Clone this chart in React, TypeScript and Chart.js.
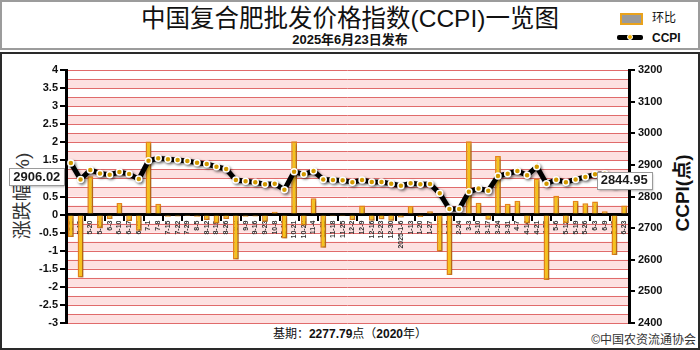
import React, { useEffect, useRef } from "react";
import { Chart, registerables } from "chart.js";

Chart.register(...registerables);

// Weekly release dates (2024-05-06 … 2025-06-23)
const weekLabels = [
  "5-6", "5-13", "5-20", "5-27", "6-3", "6-10", "6-17", "6-24",
  "7-1", "7-8", "7-15", "7-22", "7-29", "8-5", "8-12", "8-19", "8-26",
  "9-2", "9-9", "9-16", "9-23", "10-8", "10-14", "10-21", "10-28",
  "11-4", "11-11", "11-18", "11-25", "12-2", "12-9", "12-16", "12-23", "12-30",
  "2025-1-6", "1-13", "1-20", "1-27", "2-10", "2-17", "2-24",
  "3-3", "3-10", "3-17", "3-24", "3-31", "4-7", "4-14", "4-21", "4-28",
  "5-6", "5-12", "5-19", "5-26", "6-3", "6-9", "6-16", "6-23",
];

// Week-on-week change, %
const changePct = [
  -0.62, -1.74, 1.06, -0.38, -0.12, 0.32, -0.18, -0.45,
  2.02, 0.3, -0.06, -0.05, -0.04, -0.06, -0.15, -0.25, -0.12,
  -1.24, -0.06, -0.05, -0.2, 0.08, -0.66, 2.03, -0.3,
  0.45, -0.92, -0.04, -0.04, -0.15, 0.25, -0.17, -0.13, -0.17,
  -0.08, 0.24, -0.07, 0.09, -1.02, -1.67, 0.02,
  2.03, 0.33, -0.14, 1.62, 0.3, 0.38, -0.25, 1.0, -1.81,
  0.52, -0.24, 0.38, 0.31, 0.36, 0.09, -1.12, 0.25,
];

// CCPI index, points
const ccpiIndex = [
  2906.02, 2854, 2884, 2873, 2869, 2877.5, 2871, 2855,
  2913, 2921, 2918, 2915.5, 2912, 2907, 2903, 2894, 2887,
  2852, 2848, 2845, 2838.5, 2840.5, 2821.5, 2878.5, 2870,
  2880.6, 2854, 2852, 2851, 2845, 2852, 2846, 2846, 2840.5,
  2834, 2841.6, 2838.5, 2839.5, 2810, 2760.5, 2760.5,
  2815, 2825, 2818.5, 2865, 2872, 2880.6, 2867, 2894, 2840.5,
  2853, 2845, 2854, 2861.6, 2870, 2872, 2838, 2844.95,
];

// Axis ranges
const PCT_MIN = -3;
const PCT_MAX = 4;
const PCT_STEP = 0.5;
const IDX_MIN = 2400;
const IDX_MAX = 3200;
const IDX_STEP = 50;

const LATIN = '"Liberation Sans", Arial, "Noto Sans CJK SC", sans-serif';
const CJK = '"Liberation Sans", "Noto Sans CJK SC", sans-serif';

// Striped background with red rules every quarter percent
const bandPlugin = {
  id: "bands",
  beforeDraw(chart: any) {
    const { ctx, chartArea: a, scales } = chart;
    const y = scales.yPct;
    const step = PCT_STEP / 2;
    const n = Math.round((PCT_MAX - PCT_MIN) / step);
    ctx.save();
    for (let k = 0; k < n; k++) {
      if (k % 2 !== 0) continue;
      const v = PCT_MIN + k * step;
      const bot = y.getPixelForValue(v);
      const top = y.getPixelForValue(v + step);
      ctx.fillStyle = "#fde1e1";
      ctx.fillRect(a.left, top, a.right - a.left, bot - top);
    }
    ctx.strokeStyle = "#e06b6b";
    ctx.lineWidth = 1;
    for (let k = 0; k <= n; k++) {
      const py = Math.round(y.getPixelForValue(PCT_MIN + k * step)) + 0.5;
      ctx.beginPath();
      ctx.moveTo(a.left, py);
      ctx.lineTo(a.right, py);
      ctx.stroke();
    }
    ctx.restore();
  },
};

// Soft drop shadow under bars and the index line
const shadowPlugin = {
  id: "shadow",
  beforeDatasetDraw(chart: any) {
    const ctx = chart.ctx;
    ctx.save();
    ctx.shadowColor = "rgba(0,0,0,0.35)";
    ctx.shadowBlur = 3;
    ctx.shadowOffsetX = 1.5;
    ctx.shadowOffsetY = 1.5;
  },
  afterDatasetDraw(chart: any) {
    chart.ctx.restore();
  },
};

function drawValueBox(ctx: any, text: string, cx: number, cy: number) {
  ctx.save();
  ctx.font = `bold 13px ${LATIN}`;
  const w = ctx.measureText(text).width + 8;
  const h = 17;
  const x = Math.round(cx - w / 2) + 0.5;
  const y = Math.round(cy - h / 2) + 0.5;
  ctx.shadowColor = "rgba(0,0,0,0.3)";
  ctx.shadowBlur = 2;
  ctx.shadowOffsetX = 1;
  ctx.shadowOffsetY = 1;
  ctx.fillStyle = "#ffffff";
  ctx.fillRect(x, y, w, h);
  ctx.shadowColor = "transparent";
  ctx.strokeStyle = "#9a9a9a";
  ctx.lineWidth = 1;
  ctx.strokeRect(x, y, w, h);
  ctx.fillStyle = "#1a1a1a";
  ctx.textAlign = "center";
  ctx.textBaseline = "middle";
  ctx.fillText(text, cx, cy + 0.5);
  ctx.restore();
}

// Value call-outs for the first and latest index readings
const endLabelPlugin = {
  id: "endLabels",
  afterDraw(chart: any) {
    const meta = chart.getDatasetMeta(1);
    const pts = meta.data;
    const first = pts[0];
    const last = pts[pts.length - 1];
    const ctx = chart.ctx;
    drawValueBox(ctx, ccpiIndex[0].toFixed(2), first.x - 34, first.y + 14);
    drawValueBox(ctx, ccpiIndex[ccpiIndex.length - 1].toFixed(2), last.x, last.y - 2);
  },
};

const plainNumber = (v: any) => String(v);

function CcpiChart() {
  const ref = useRef<HTMLCanvasElement | null>(null);

  useEffect(() => {
    if (!ref.current) return;
    const chart = new Chart(ref.current, {
      type: "bar",
      data: {
        labels: weekLabels,
        datasets: [
          {
            type: "bar",
            label: "环比",
            data: changePct,
            yAxisID: "yPct",
            backgroundColor: "#f6c21c",
            borderColor: "#e8861a",
            borderWidth: 1.5,
            barPercentage: 0.6,
            categoryPercentage: 1,
            order: 1,
          },
          {
            type: "line",
            label: "CCPI",
            data: ccpiIndex,
            yAxisID: "yIdx",
            borderColor: "#000000",
            borderWidth: 5,
            tension: 0,
            pointRadius: 3,
            pointBorderWidth: 1.5,
            pointBorderColor: "#ffffff",
            pointBackgroundColor: "#f5b301",
            order: 0,
          },
        ],
      },
      options: {
        responsive: false,
        animation: false,
        events: [],
        layout: { padding: { left: 0, right: 0, top: 70, bottom: 27 } },
        plugins: {
          legend: { display: false },
          tooltip: { enabled: false },
        },
        scales: {
          x: {
            type: "category",
            position: { yPct: 0 } as any,
            offset: true,
            border: { display: true, color: "#000", width: 3 },
            grid: {
              offset: true,
              drawOnChartArea: false,
              tickLength: 5,
              lineWidth: 2,
              color: (c: any) => (c.index % 2 === 0 ? "#000" : "rgba(0,0,0,0)"),
            },
            ticks: {
              autoSkip: false,
              minRotation: 90,
              maxRotation: 90,
              padding: 1,
              color: "#333",
              font: { family: LATIN, size: 7, weight: "bold" },
            },
          },
          yPct: {
            type: "linear",
            position: "left",
            min: PCT_MIN,
            max: PCT_MAX,
            afterFit: (s: any) => {
              s.width = 66;
            },
            border: { display: true, color: "#000", width: 3 },
            grid: { drawOnChartArea: false, color: "#000", tickLength: 6, lineWidth: 2 },
            ticks: {
              stepSize: PCT_STEP,
              padding: 2,
              color: "#111",
              callback: plainNumber,
              font: { family: LATIN, size: 11, weight: "bold" },
            },
          },
          yIdx: {
            type: "linear",
            position: "right",
            min: IDX_MIN,
            max: IDX_MAX,
            afterFit: (s: any) => {
              s.width = 71;
            },
            border: { display: true, color: "#000", width: 3 },
            grid: { drawOnChartArea: false, color: "#000", tickLength: 6, lineWidth: 2 },
            ticks: {
              stepSize: IDX_STEP,
              padding: 3,
              color: "#111",
              callback: plainNumber,
              font: { family: LATIN, size: 11, weight: "bold" },
            },
          },
        },
      },
      plugins: [bandPlugin, shadowPlugin, endLabelPlugin],
    } as any);
    return () => chart.destroy();
  }, []);

  return (
    <canvas
      ref={ref}
      width={700}
      height={350}
      style={{ position: "absolute", left: 0, top: 0, width: 700, height: 350 }}
    />
  );
}

export default function App() {
  const abs: React.CSSProperties = { position: "absolute", whiteSpace: "nowrap", lineHeight: 1 };
  return (
    <div
      style={{
        position: "absolute",
        left: 0,
        top: 0,
        width: 700,
        height: 350,
        overflow: "hidden",
        background: "#ffffff",
        fontFamily: CJK,
        color: "#111",
      }}
    >
      {/* header frame */}
      <div
        style={{
          position: "absolute",
          left: 0,
          top: 0,
          width: 700,
          height: 50,
          boxSizing: "border-box",
          border: "2px solid #9c9c9c",
        }}
      />
      <div style={{ ...abs, left: 0, width: 700, top: 7, textAlign: "center", fontSize: 24.5 }}>
        中国复合肥批发价格指数(CCPI)一览图
      </div>
      <div
        style={{ ...abs, left: 0, width: 700, top: 33, textAlign: "center", fontSize: 13, fontWeight: "bold" }}
      >
        2025年6月23日发布
      </div>

      {/* legend */}
      <div
        style={{
          position: "absolute",
          left: 620,
          top: 13,
          width: 19,
          height: 8,
          background: "#9a9a9a",
          border: "2px solid #e9a21c",
        }}
      />
      <div style={{ ...abs, left: 652, top: 12, fontSize: 12 }}>环比</div>
      <div
        style={{
          position: "absolute",
          left: 617,
          top: 35,
          width: 26,
          height: 5,
          background: "#000",
          borderRadius: 2,
        }}
      />
      <div
        style={{
          position: "absolute",
          left: 627,
          top: 34,
          width: 4,
          height: 4,
          borderRadius: "50%",
          background: "#f5b301",
          border: "1px solid #fff",
        }}
      />
      <div style={{ ...abs, left: 652, top: 32, fontSize: 12, fontWeight: "bold", fontFamily: LATIN }}>
        CCPI
      </div>

      {/* chart frame */}
      <div
        style={{
          position: "absolute",
          left: 0,
          top: 52,
          width: 700,
          height: 298,
          boxSizing: "border-box",
          border: "2px solid #2a2a2a",
        }}
      />

      {/* axis titles */}
      <div
        style={{
          ...abs,
          left: 22,
          top: 196,
          fontSize: 19,
          color: "#333",
          transform: "translate(-50%, -50%) rotate(-90deg)",
        }}
      >
        涨跌幅(%)
      </div>
      <div
        style={{
          ...abs,
          left: 682,
          top: 193,
          fontSize: 19,
          fontWeight: "bold",
          transform: "translate(-50%, -50%) rotate(-90deg)",
        }}
      >
        CCPI(点)
      </div>

      {/* footer */}
      <div style={{ ...abs, left: 0, width: 700, top: 328, textAlign: "center", fontSize: 12 }}>
        基期：<b style={{ fontFamily: LATIN }}>2277.79</b>点（<b style={{ fontFamily: LATIN }}>2020</b>年）
      </div>
      <div style={{ ...abs, right: 4, top: 334, fontSize: 12, color: "#333" }}>©中国农资流通协会</div>

      <CcpiChart />
    </div>
  );
}
